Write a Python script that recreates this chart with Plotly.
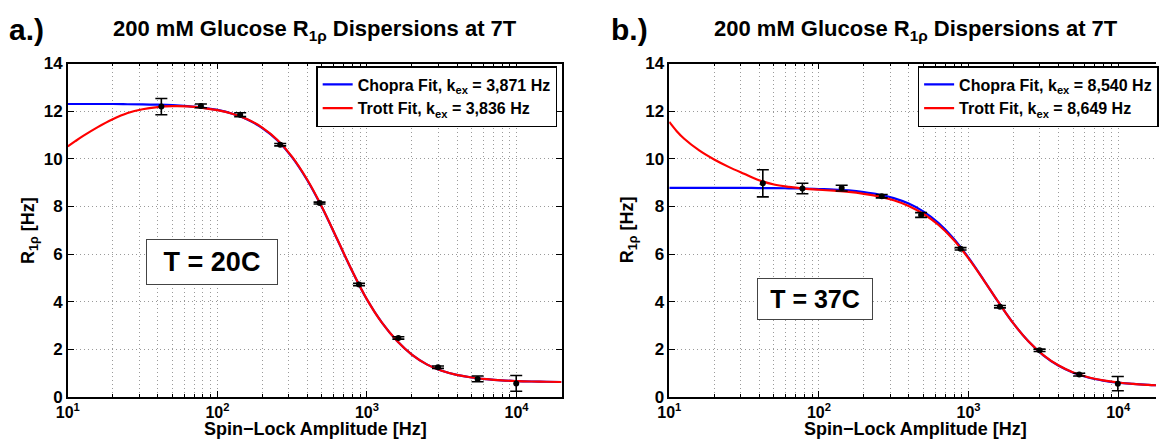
import plotly.graph_objects as go

# ---------------- data ----------------
spin_lock_hz = [42.2, 77.6, 142, 263, 482, 885, 1622, 2985, 5495, 9954]

r1rho_20c = [12.19, 12.22, 11.85, 10.59, 8.14, 4.72, 2.48, 1.25, 0.76, 0.57]
err_20c = [0.34, 0.08, 0.08, 0.05, 0.04, 0.05, 0.05, 0.05, 0.12, 0.33]

r1rho_37c = [8.97, 8.75, 8.77, 8.43, 7.64, 6.22, 3.79, 1.96, 0.94, 0.56]
err_37c = [0.57, 0.22, 0.12, 0.07, 0.10, 0.05, 0.05, 0.05, 0.06, 0.30]

fit_hz = [10, 11.22, 12.59, 15.85, 19.95, 25.12, 31.62, 39.81, 50.12, 63.10,
          79.43, 100, 125.9, 158.5, 199.5, 251.2, 316.2, 398.1, 501.2, 631.0,
          794.3, 1000, 1259, 1585, 1995, 2512, 3162, 3981, 5012, 6310,
          7943, 10000, 12589, 15849, 19953]

chopra_20c = [12.30, 12.30, 12.30, 12.30, 12.30, 12.29, 12.28, 12.27, 12.25, 12.21,
              12.15, 12.05, 11.89, 11.65, 11.29, 10.78, 10.06, 9.11, 7.95, 6.63,
              5.30, 4.09, 3.12, 2.36, 1.78, 1.37, 1.10, 0.93, 0.82, 0.75,
              0.70, 0.67, 0.65, 0.64, 0.63]
trott_20c = [10.52, 10.74, 10.95, 11.33, 11.66, 11.92, 12.08, 12.17, 12.21, 12.20,
             12.14, 12.04, 11.89, 11.66, 11.31, 10.80, 10.08, 9.13, 7.97, 6.64,
             5.31, 4.10, 3.12, 2.36, 1.78, 1.37, 1.10, 0.93, 0.82, 0.75,
             0.70, 0.67, 0.65, 0.64, 0.63]

chopra_37c = [8.78, 8.78, 8.78, 8.78, 8.78, 8.78, 8.78, 8.77, 8.77, 8.76,
              8.75, 8.73, 8.71, 8.67, 8.60, 8.50, 8.35, 8.12, 7.78, 7.30,
              6.66, 5.85, 4.93, 3.98, 3.09, 2.34, 1.75, 1.32, 1.02, 0.82,
              0.69, 0.60, 0.55, 0.51, 0.48]
trott_37c = [11.55, 11.16, 10.84, 10.35, 9.97, 9.65, 9.37, 9.10, 8.92, 8.82,
             8.75, 8.70, 8.66, 8.61, 8.53, 8.42, 8.26, 8.02, 7.68, 7.22,
             6.60, 5.82, 4.92, 3.98, 3.09, 2.34, 1.76, 1.33, 1.03, 0.83,
             0.70, 0.61, 0.55, 0.51, 0.48]

legend_20c = ["Chopra Fit, k<sub>ex</sub> = 3,871 Hz", "Trott Fit, k<sub>ex</sub> = 3,836 Hz"]
legend_37c = ["Chopra Fit, k<sub>ex</sub> = 8,540 Hz", "Trott Fit, k<sub>ex</sub> = 8,649 Hz"]

x_tick_vals = [10, 100, 1000, 10000]
x_tick_text = ["10<sup>1</sup>", "10<sup>2</sup>", "10<sup>3</sup>", "10<sup>4</sup>"]
x_minor_vals = [m * d for d in [10, 100, 1000, 10000] for m in range(2, 10)]
y_tick_vals = [0, 2, 4, 6, 8, 10, 12, 14]

# ---------------- layout helpers ----------------
W, H = 1159, 441
FONT = "Liberation Sans, Arial, sans-serif"
GRIDCOL = "#9a9a9a"
GRIDDASH = "1px,3px"


def px(x):
    return x / W


def py(y):
    return (H - y) / H


fig = go.Figure()

panels = [
    dict(xa="x", ya="y", leg="legend", chop=chopra_20c, trott=trott_20c,
         data=r1rho_20c, err=err_20c, names=legend_20c),
    dict(xa="x2", ya="y2", leg="legend2", chop=chopra_37c, trott=trott_37c,
         data=r1rho_37c, err=err_37c, names=legend_37c),
]

for p in panels:
    fig.add_trace(go.Scatter(x=fit_hz, y=p["chop"], mode="lines", name=p["names"][0],
                             line=dict(color="#0000ff", width=2.2, shape="spline"),
                             xaxis=p["xa"], yaxis=p["ya"], legend=p["leg"]))
    fig.add_trace(go.Scatter(x=fit_hz, y=p["trott"], mode="lines", name=p["names"][1],
                             line=dict(color="#ff0000", width=2.2, shape="spline"),
                             xaxis=p["xa"], yaxis=p["ya"], legend=p["leg"]))
    fig.add_trace(go.Scatter(x=spin_lock_hz, y=p["data"], mode="markers", showlegend=False,
                             marker=dict(color="black", size=6),
                             error_y=dict(type="data", array=p["err"], visible=True,
                                          color="black", thickness=1.6, width=6),
                             xaxis=p["xa"], yaxis=p["ya"]))

grid = dict(showgrid=True, gridcolor=GRIDCOL, gridwidth=1, griddash=GRIDDASH)

xcommon = dict(type="log", tickmode="array", tickvals=x_tick_vals, ticktext=x_tick_text,
               ticks="inside", ticklen=6, tickwidth=1, tickcolor="black",
               showline=True, linecolor="black", linewidth=1.5,
               tickfont=dict(family=FONT, size=16, color="black", weight="bold"),
               ticklabelstandoff=0,
               minor=dict(tickmode="array", tickvals=x_minor_vals, ticks="inside", ticklen=3,
                          tickcolor="black", showgrid=True, gridcolor=GRIDCOL,
                          griddash=GRIDDASH, gridwidth=1),
               zeroline=False, automargin=False, **grid)
ycommon = dict(range=[0, 14], tickmode="array", tickvals=y_tick_vals,
               ticks="inside", ticklen=6, tickwidth=1, tickcolor="black",
               showline=True, linecolor="black", linewidth=1.5,
               tickfont=dict(family=FONT, size=17, color="black", weight="bold"),
               zeroline=False, automargin=False, **grid)

ydom = [py(397), py(63.5)]

legend_style = dict(xanchor="left", yanchor="top", bgcolor="white", bordercolor="black",
                    borderwidth=1.5, itemwidth=30, tracegroupgap=0,
                    font=dict(family=FONT, size=16, color="black", weight="bold"))

fig.update_layout(
    width=W, height=H, margin=dict(l=0, r=0, t=0, b=0),
    paper_bgcolor="white", plot_bgcolor="white",
    xaxis=dict(domain=[px(68), px(563)], range=[1, 4.30103], anchor="y",
               mirror="allticks", **xcommon),
    yaxis=dict(domain=ydom, anchor="x", mirror="allticks", **ycommon),
    xaxis2=dict(domain=[px(671), 1.0], range=[1, 4.253], anchor="y2",
                mirror="allticks", **xcommon),
    yaxis2=dict(domain=ydom, anchor="x2", mirror=False, **ycommon),
    legend=dict(x=px(317), y=py(66), **legend_style),
    legend2=dict(x=px(920), y=py(66), **legend_style),
    showlegend=True,
)

bold = dict(family=FONT, color="black", weight="bold")
ann = [
    dict(text="a.)", x=px(7), y=py(29), xanchor="left", font=dict(size=30, **bold)),
    dict(text="b.)", x=px(611), y=py(29), xanchor="left", font=dict(size=30, **bold)),
    dict(text="200 mM Glucose R<sub>1ρ</sub> Dispersions at 7T", x=px(316), y=py(30),
         xanchor="center", font=dict(size=22, **bold)),
    dict(text="200 mM Glucose R<sub>1ρ</sub> Dispersions at 7T", x=px(918), y=py(30),
         xanchor="center", font=dict(size=22, **bold)),
    dict(text="Spin−Lock Amplitude [Hz]", x=px(316), y=py(441), xanchor="center",
         yanchor="bottom", font=dict(size=18, **bold)),
    dict(text="Spin−Lock Amplitude [Hz]", x=px(918), y=py(441), xanchor="center",
         yanchor="bottom", font=dict(size=18, **bold)),
    dict(text="R<sub>1ρ</sub> [Hz]", x=px(29), y=py(230), textangle=-90,
         font=dict(size=18, **bold)),
    dict(text="R<sub>1ρ</sub> [Hz]", x=px(630), y=py(230), textangle=-90,
         font=dict(size=18, **bold)),
    dict(text="T = 20C", x=px(213), y=py(262), width=128, height=42,
         bgcolor="white", bordercolor="#444", borderwidth=1, borderpad=1,
         font=dict(size=27, **bold)),
    dict(text="T = 37C", x=px(817), y=py(299), width=112, height=38,
         bgcolor="white", bordercolor="#444", borderwidth=1, borderpad=1,
         font=dict(size=25, **bold)),
]
for a in ann:
    a.setdefault("xanchor", "center")
    a.setdefault("yanchor", "middle")
    a.update(xref="paper", yref="paper", showarrow=False)
fig.update_layout(annotations=ann)

fig.write_html("out.html")
